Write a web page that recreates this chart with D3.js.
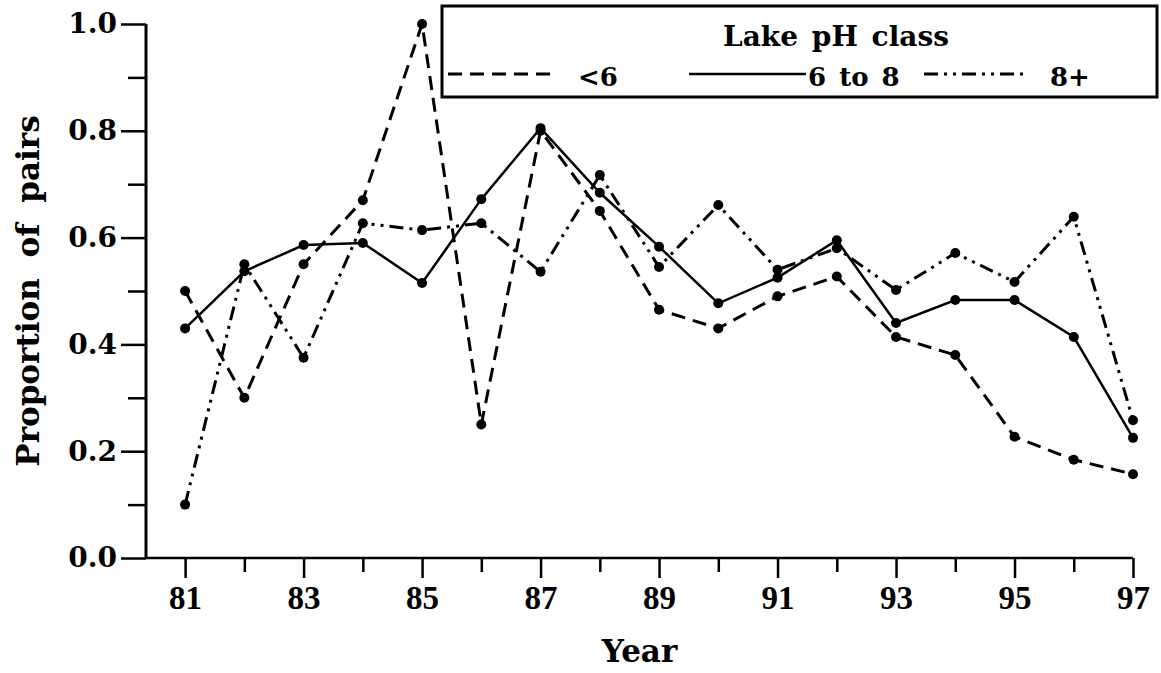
<!DOCTYPE html>
<html>
<head>
<meta charset="utf-8">
<script src="https://cdn.jsdelivr.net/npm/d3@7"></script>
<style>
  body { margin: 0; background: #fff; }
  svg { display: block; }
  text { fill: #000; }
</style>
</head>
<body>
<div id="chart"></div>
<script>
// data
const years = [81, 82, 83, 84, 85, 86, 87, 88, 89, 90, 91, 92, 93, 94, 95, 96, 97];
const phLow = [0.50, 0.30, 0.55, 0.67, 1.00, 0.25, 0.80, 0.65, 0.465, 0.43, 0.49, 0.527, 0.414, 0.38, 0.227, 0.184, 0.157];
const phMid = [0.43, 0.537, 0.586, 0.59, 0.515, 0.672, 0.805, 0.684, 0.583, 0.477, 0.525, 0.595, 0.44, 0.483, 0.483, 0.414, 0.225];
const phHigh = [0.10, 0.55, 0.375, 0.627, 0.614, 0.627, 0.536, 0.717, 0.545, 0.661, 0.54, 0.58, 0.502, 0.571, 0.517, 0.639, 0.258];
const seriesNames = ["<6", "6 to 8", "8+"];
const yTicks = [0.0, 0.2, 0.4, 0.6, 0.8, 1.0];
const xTickLabels = [81, 83, 85, 87, 89, 91, 93, 95, 97];

const W = 1161, H = 673;
const plotLeft = 146, plotTop = 24, plotRight = 1133, plotBottom = 558;

const svg = d3.select("#chart").append("svg")
  .attr("width", W)
  .attr("height", H);

const x = d3.scaleLinear().domain([80.34, 97]).range([plotLeft, plotRight]);
const y = d3.scaleLinear().domain([0, 1]).range([plotBottom, plotTop]);

const serif = "'DejaVu Serif', serif";
const narrowSerif = "'Liberation Serif', serif";

// y axis: major ticks every 0.2, minor every 0.1
let yAxis = d3.axisLeft(y)
  .tickValues(yTicks)
  .tickSize(25)
  .tickPadding(4)
  .tickFormat(d3.format(".1f"));
let gY = svg.append("g")
  .attr("transform", `translate(${plotLeft},0)`)
  .call(yAxis);
gY.select(".domain").remove();
gY.selectAll(".tick line").attr("stroke", "#000").attr("stroke-width", 2.5);
gY.selectAll(".tick text")
  .style("font-family", serif)
  .style("font-weight", "bold")
  .style("font-size", "28px");

let yMinor = d3.axisLeft(y)
  .tickValues(d3.range(0.1, 1, 0.2))
  .tickSize(18)
  .tickFormat("");
let gYm = svg.append("g")
  .attr("transform", `translate(${plotLeft},0)`)
  .call(yMinor);
gYm.select(".domain").remove();
gYm.selectAll(".tick line").attr("stroke", "#000").attr("stroke-width", 2.5);

// x axis: tick every year, labels on odd years
let xAxis = d3.axisBottom(x)
  .tickValues(xTickLabels)
  .tickSize(20)
  .tickPadding(8)
  .tickFormat(d3.format("d"));
let gX = svg.append("g")
  .attr("transform", `translate(0,${plotBottom})`)
  .call(xAxis);
gX.select(".domain").remove();
gX.selectAll(".tick line").attr("stroke", "#000").attr("stroke-width", 2.5);
gX.selectAll(".tick text")
  .style("font-family", narrowSerif)
  .style("font-weight", "bold")
  .style("font-size", "33px");

let xMinor = d3.axisBottom(x)
  .tickValues(years.filter(d => d % 2 == 0))
  .tickSize(14)
  .tickFormat("");
let gXm = svg.append("g")
  .attr("transform", `translate(0,${plotBottom})`)
  .call(xMinor);
gXm.select(".domain").remove();
gXm.selectAll(".tick line").attr("stroke", "#000").attr("stroke-width", 2.5);

// axis lines
svg.append("line")
  .attr("x1", plotLeft).attr("x2", plotLeft)
  .attr("y1", y(1)).attr("y2", y(0))
  .attr("stroke", "#000").attr("stroke-width", 3);
svg.append("line")
  .attr("x1", plotLeft).attr("x2", x(97))
  .attr("y1", y(0)).attr("y2", y(0))
  .attr("stroke", "#000").attr("stroke-width", 2.5);

// axis titles
svg.append("text")
  .text("Proportion of pairs")
  .attr("text-anchor", "middle")
  .attr("transform", `translate(39, ${(plotTop + plotBottom) / 2}) rotate(-90)`)
  .style("font-family", serif)
  .style("font-weight", "bold")
  .style("font-size", "31px")
  .style("word-spacing", "10px");
svg.append("text")
  .text("Year")
  .attr("text-anchor", "middle")
  .attr("x", (plotLeft + plotRight) / 2)
  .attr("y", 662)
  .style("font-family", serif)
  .style("font-weight", "bold")
  .style("font-size", "31px");

// series
const dashes = ["14,8", null, "14,6,3,6,3,6"];
const allSeries = [phLow, phMid, phHigh];

let line = d3.line()
  .x((d, i) => x(years[i]))
  .y(d => y(d));

allSeries.forEach((vals, k) => {
  svg.append("path")
    .datum(vals)
    .attr("d", line)
    .attr("fill", "none")
    .attr("stroke", "#000")
    .attr("stroke-width", k == 1 ? 2.5 : 3)
    .attr("stroke-dasharray", dashes[k]);
});
allSeries.forEach((vals) => {
  svg.selectAll(null)
    .data(vals)
    .enter().append("circle")
    .attr("cx", (d, i) => x(years[i]))
    .attr("cy", d => y(d))
    .attr("r", 5)
    .attr("fill", "#000");
});

// legend
let legend = svg.append("g");
legend.append("rect")
  .attr("x", 442).attr("y", 6)
  .attr("width", 715).attr("height", 91)
  .attr("fill", "#fff")
  .attr("stroke", "#000")
  .attr("stroke-width", 3);
legend.append("text")
  .text("Lake pH class")
  .attr("x", 836).attr("y", 46)
  .attr("text-anchor", "middle")
  .style("font-family", serif)
  .style("font-weight", "bold")
  .style("font-size", "28px")
  .style("word-spacing", "4px");

let legendItems = [
  { x1: 448, x2: 558, tx: 578 },
  { x1: 689, x2: 806, tx: 808 },
  { x1: 924, x2: 1026, tx: 1050 }
];
legendItems.forEach((it, k) => {
  legend.append("line")
    .attr("x1", it.x1).attr("x2", it.x2)
    .attr("y1", 74).attr("y2", 74)
    .attr("stroke", "#000")
    .attr("stroke-width", k == 1 ? 2.5 : 3)
    .attr("stroke-dasharray", dashes[k]);
  legend.append("text")
    .text(seriesNames[k])
    .attr("x", it.tx).attr("y", 86)
    .style("font-family", serif)
    .style("font-weight", "bold")
    .style("font-size", "26px")
    .style("word-spacing", "4px");
});
</script>
</body>
</html>
